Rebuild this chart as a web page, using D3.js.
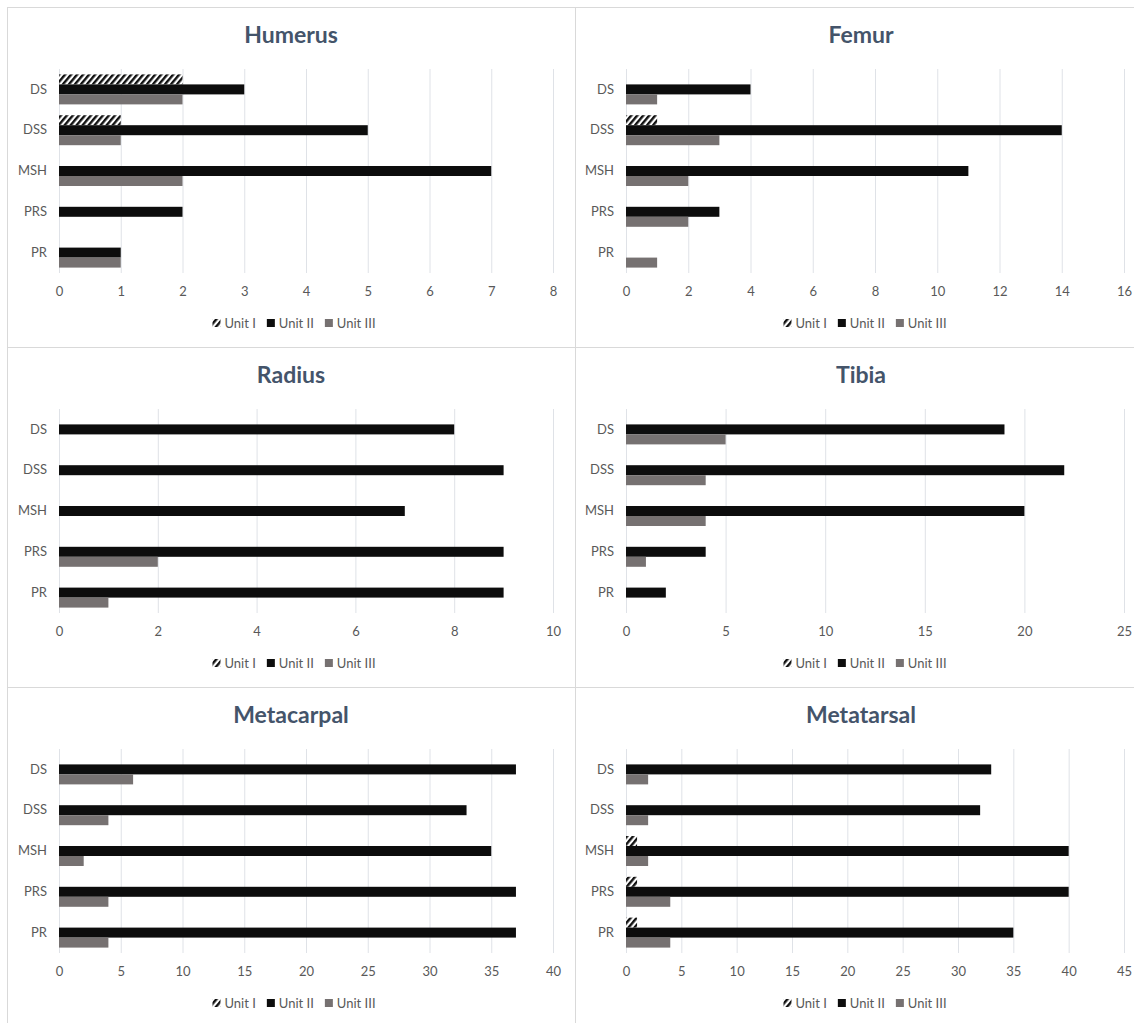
<!DOCTYPE html>
<html>
<head>
<meta charset="utf-8">
<script src="https://cdn.jsdelivr.net/npm/d3@7/dist/d3.min.js"></script>
<style>
  html, body { margin: 0; padding: 0; background: #fff; }
  svg { display: block; font-family: Lato, "Open Sans", sans-serif; }
</style>
</head>
<body>
<svg id="chart" width="1134" height="1023"></svg>
<script>
// ---------- data ----------
const categories = ["DS", "DSS", "MSH", "PRS", "PR"];
const seriesNames = ["Unit I", "Unit II", "Unit III"];

const humerusUnitI   = [2, 1, 0, 0, 0];
const humerusUnitII  = [3, 5, 7, 2, 1];
const humerusUnitIII = [2, 1, 2, 0, 1];
const humerusTicks   = [0, 1, 2, 3, 4, 5, 6, 7, 8];

const femurUnitI   = [0, 1, 0, 0, 0];
const femurUnitII  = [4, 14, 11, 3, 0];
const femurUnitIII = [1, 3, 2, 2, 1];
const femurTicks   = [0, 2, 4, 6, 8, 10, 12, 14, 16];

const radiusUnitI   = [0, 0, 0, 0, 0];
const radiusUnitII  = [8, 9, 7, 9, 9];
const radiusUnitIII = [0, 0, 0, 2, 1];
const radiusTicks   = [0, 2, 4, 6, 8, 10];

const tibiaUnitI   = [0, 0, 0, 0, 0];
const tibiaUnitII  = [19, 22, 20, 4, 2];
const tibiaUnitIII = [5, 4, 4, 1, 0];
const tibiaTicks   = [0, 5, 10, 15, 20, 25];

const metacarpalUnitI   = [0, 0, 0, 0, 0];
const metacarpalUnitII  = [37, 33, 35, 37, 37];
const metacarpalUnitIII = [6, 4, 2, 4, 4];
const metacarpalTicks   = [0, 5, 10, 15, 20, 25, 30, 35, 40];

const metatarsalUnitI   = [0, 0, 1, 1, 1];
const metatarsalUnitII  = [33, 32, 40, 40, 35];
const metatarsalUnitIII = [2, 2, 2, 4, 4];
const metatarsalTicks   = [0, 5, 10, 15, 20, 25, 30, 35, 40, 45];

const panels = [
  { title: "Humerus",    col: 0, row: 0, series: [humerusUnitI, humerusUnitII, humerusUnitIII], ticks: humerusTicks },
  { title: "Femur",      col: 1, row: 0, series: [femurUnitI, femurUnitII, femurUnitIII], ticks: femurTicks },
  { title: "Radius",     col: 0, row: 1, series: [radiusUnitI, radiusUnitII, radiusUnitIII], ticks: radiusTicks },
  { title: "Tibia",      col: 1, row: 1, series: [tibiaUnitI, tibiaUnitII, tibiaUnitIII], ticks: tibiaTicks },
  { title: "Metacarpal", col: 0, row: 2, series: [metacarpalUnitI, metacarpalUnitII, metacarpalUnitIII], ticks: metacarpalTicks },
  { title: "Metatarsal", col: 1, row: 2, series: [metatarsalUnitI, metatarsalUnitII, metatarsalUnitIII], ticks: metatarsalTicks }
];

// ---------- layout ----------
const colLayout = [
  { frameX: 7,   frameW: 568, x0: 59,  x1: 553,  cx: 291, legendCx: 294 },
  { frameX: 575, frameW: 568, x0: 626, x1: 1124, cx: 861, legendCx: 865 }
];
const rowStep = 340;
const frameTop = 7;
const plotTop = 69, plotBottom = 273;
const titleY = 43, tickY = 298, legendY = 323;

const colors = { "Unit I": "url(#hatch)", "Unit II": "#0d0d0d", "Unit III": "#767171" };
const textColor = "#595959";
const gridColor = "#dfe2e7";

const svg = d3.select("#chart");
svg.append("rect").attr("width", 1134).attr("height", 1023).attr("fill", "#fff");

const defs = svg.append("defs");
const pat = defs.append("pattern")
  .attr("id", "hatch").attr("patternUnits", "userSpaceOnUse")
  .attr("width", 4.6).attr("height", 4.6)
  .attr("patternTransform", "rotate(40)");
pat.append("rect").attr("width", 4.6).attr("height", 4.6).attr("fill", "#fff");
pat.append("rect").attr("width", 2.4).attr("height", 4.6).attr("fill", "#111");

panels.forEach(p => {
  const L = colLayout[p.col];
  const dy = p.row * rowStep;
  const g = svg.append("g").attr("transform", `translate(0,${dy})`);

  // frame
  g.append("rect")
    .attr("x", L.frameX + 0.5).attr("y", frameTop + 0.5)
    .attr("width", L.frameW).attr("height", rowStep)
    .attr("fill", "none").attr("stroke", "#d9d9d9").attr("stroke-width", 1);

  // title
  g.append("text")
    .attr("x", L.cx).attr("y", titleY)
    .attr("text-anchor", "middle")
    .attr("font-size", 23).attr("font-weight", 700)
    .attr("fill", "#44546a")
    .text(p.title);

  const x = d3.scaleLinear()
    .domain([p.ticks[0], p.ticks[p.ticks.length - 1]])
    .range([L.x0, L.x1]);
  const y = d3.scaleBand()
    .domain(categories)
    .range([plotTop, plotBottom])
    .paddingInner(0.265).paddingOuter(0.1325);
  const ys = d3.scaleBand().domain(seriesNames).range([0, y.bandwidth()]);

  // gridlines
  const grid = g.append("g")
    .attr("transform", `translate(0,${plotBottom})`)
    .call(d3.axisBottom(x).tickValues(p.ticks).tickSize(-(plotBottom - plotTop)).tickFormat(""));
  grid.select(".domain").remove();
  grid.selectAll(".tick line").attr("stroke", gridColor).attr("stroke-width", 1);

  // x tick labels
  const xa = g.append("g")
    .attr("transform", `translate(0,${tickY - 11})`)
    .call(d3.axisBottom(x).tickValues(p.ticks).tickSize(0).tickPadding(0).tickFormat(d3.format("d")));
  xa.select(".domain").remove();
  xa.selectAll("text")
    .attr("font-size", 13).attr("fill", textColor)
    .attr("font-family", "Lato, 'Open Sans', sans-serif")
    .attr("dy", "0.71em");

  // category labels
  const ya = g.append("g")
    .attr("transform", `translate(${L.x0 - 12},0)`)
    .call(d3.axisLeft(y).tickSize(0).tickPadding(0));
  ya.select(".domain").remove();
  ya.selectAll("text")
    .attr("font-size", 13).attr("fill", textColor)
    .attr("font-family", "Lato, 'Open Sans', sans-serif");

  // bars
  seriesNames.forEach((s, si) => {
    g.append("g").selectAll("rect")
      .data(categories.map((c, i) => ({ c, v: p.series[si][i] })).filter(d => d.v > 0))
      .join("rect")
      .attr("x", x(0))
      .attr("y", d => y(d.c) + ys(s))
      .attr("width", d => x(d.v) - x(0))
      .attr("height", ys.bandwidth())
      .attr("fill", colors[s]);
  });

  // legend
  const lg = g.append("g");
  let cur = 0;
  const items = [];
  seriesNames.forEach((s, i) => {
    const it = lg.append("g");
    it.append("rect").attr("x", 0).attr("y", legendY - 4).attr("width", 8).attr("height", 8).attr("fill", colors[s]);
    const t = it.append("text").attr("x", 12).attr("y", legendY + 4.5)
      .attr("font-size", 13).attr("fill", textColor).text(s);
    const w = 12 + t.node().getComputedTextLength();
    items.push({ it, w });
  });
  const gap = 11;
  const total = d3.sum(items, d => d.w) + gap * (items.length - 1);
  cur = L.legendCx - total / 2;
  items.forEach(d => {
    d.it.attr("transform", `translate(${cur},0)`);
    cur += d.w + gap;
  });
});
</script>
</body>
</html>
